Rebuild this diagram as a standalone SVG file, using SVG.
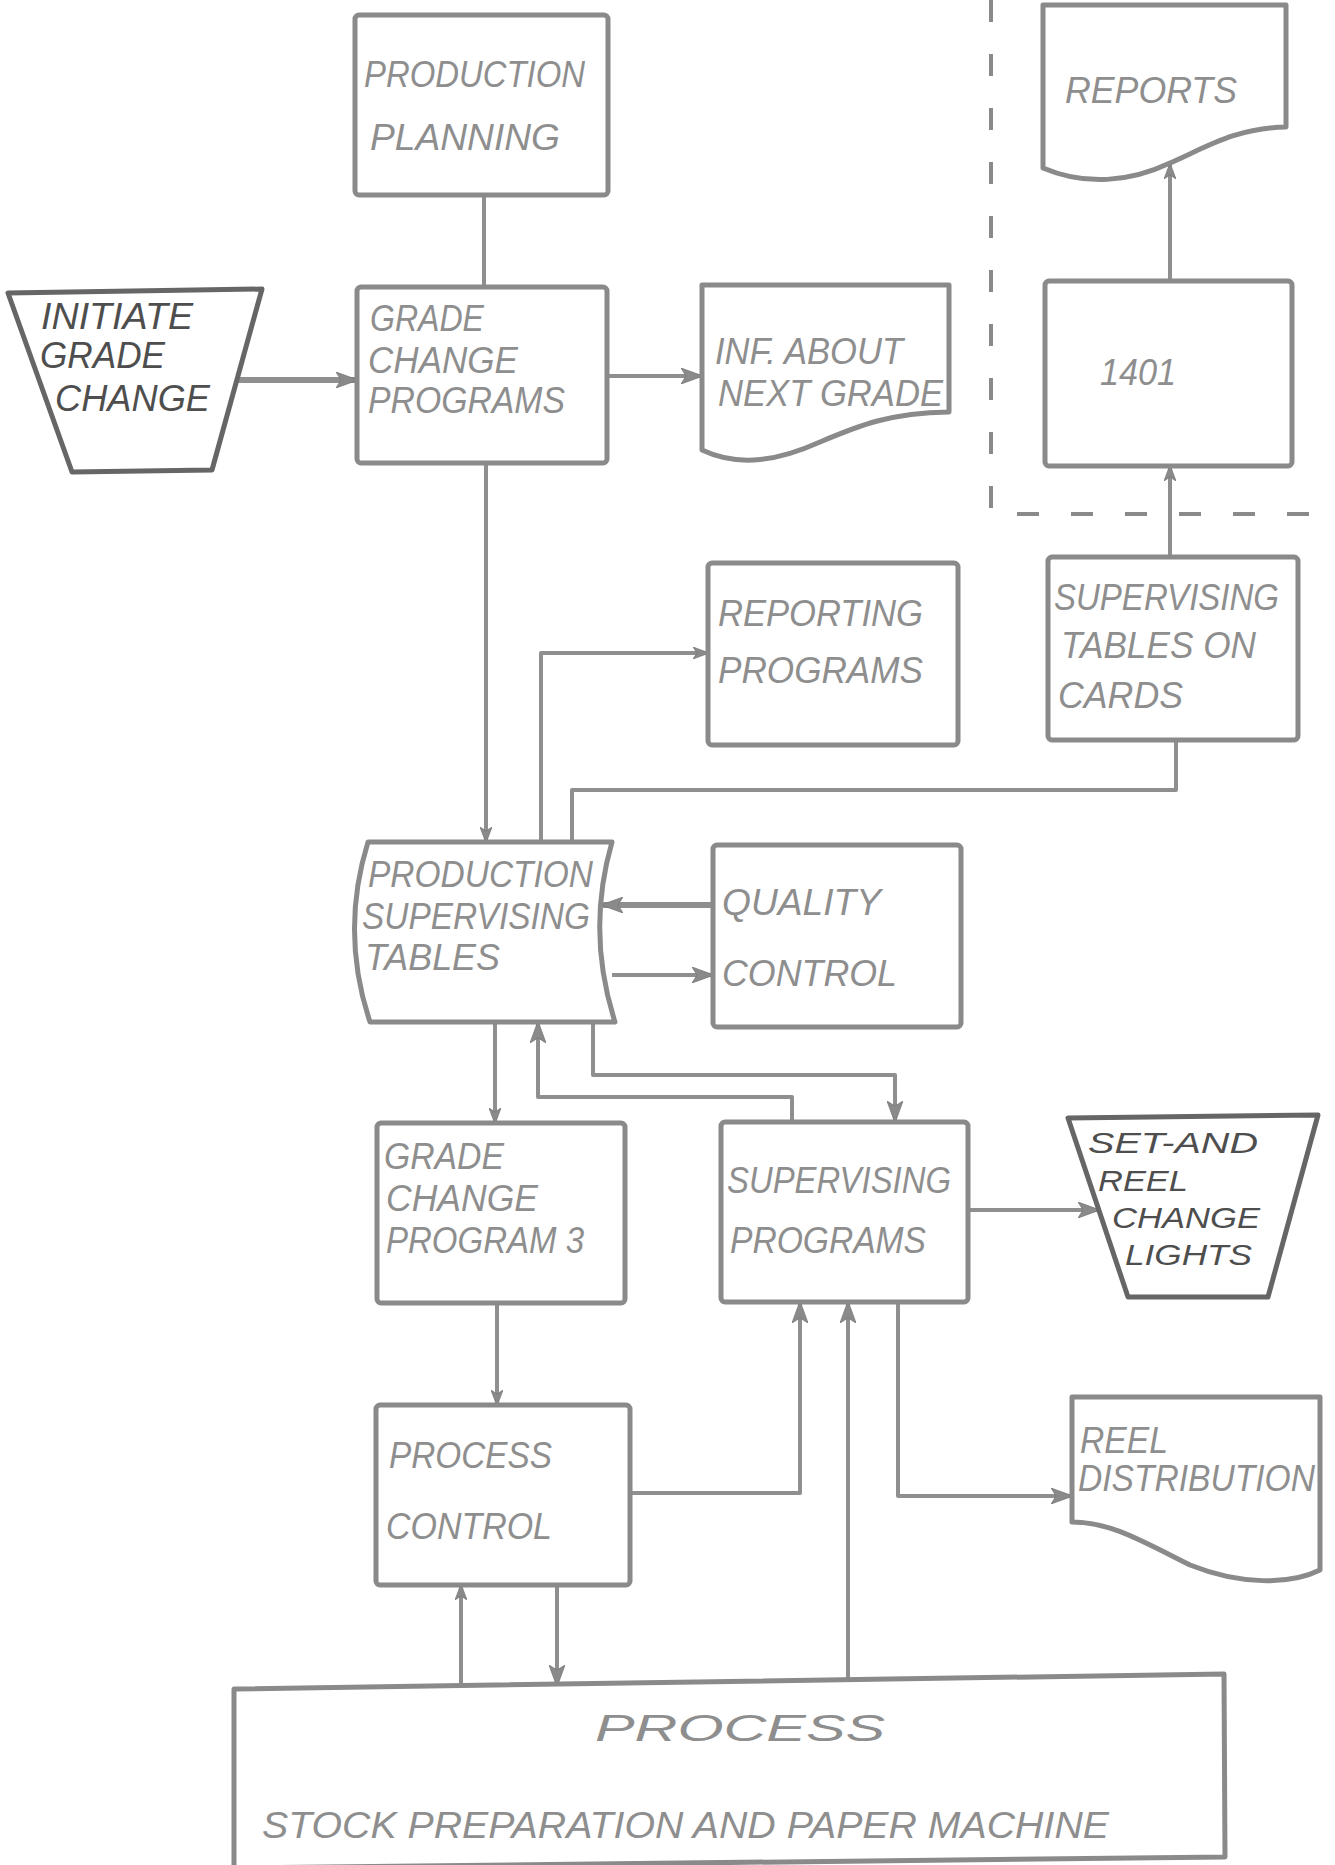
<svg xmlns="http://www.w3.org/2000/svg" width="1335" height="1865" viewBox="0 0 1335 1865">
<style>
  .box { fill: #ffffff; stroke: #8a8a8a; stroke-width: 5; stroke-linejoin: round; }
  .dark { stroke: #666666; }
  .ln { fill: none; stroke: #8f8f8f; stroke-width: 4; stroke-linejoin: round; }
  .thick { stroke-width: 6; }
  .dash { fill: none; stroke: #8a8a8a; stroke-width: 4; stroke-dasharray: 22 32; }
  .t { font-family: "Liberation Sans", Arial, sans-serif; font-style: italic; font-size: 36px; fill: #8e8e8e; }
  .td { fill: #4e4e4e; }
  .ts { font-size: 29px; }
</style>
<defs>
  <marker id="ah" viewBox="0 0 16 12" refX="15" refY="6" markerWidth="16" markerHeight="12" markerUnits="userSpaceOnUse" orient="auto">
    <path d="M0,0 L16,6 L0,12 L4,6 z" fill="#8a8a8a" stroke="#777" stroke-width="0.8"/>
  </marker>
  <marker id="ahb" viewBox="0 0 22 16" refX="21" refY="8" markerWidth="22" markerHeight="16" markerUnits="userSpaceOnUse" orient="auto">
    <path d="M0,0 L22,8 L0,16 L5,8 z" fill="#8a8a8a" stroke="#777" stroke-width="0.8"/>
  </marker>
</defs>

<g id="boundary">
  <path class="dash" d="M991,0 V514 H1335"/>
</g>

<g id="connectors">
  <path class="ln" d="M484,195 V287"/>
  <path class="ln thick" d="M237,380 H357" marker-end="url(#ahb)"/>
  <path class="ln" d="M607,376 H702" marker-end="url(#ahb)"/>
  <path class="ln" d="M1170,281 V164" marker-end="url(#ah)"/>
  <path class="ln" d="M1170,557 V466" marker-end="url(#ah)"/>
  <path class="ln" d="M486,463 V842" marker-end="url(#ah)"/>
  <path class="ln" d="M541,842 V653 H708" marker-end="url(#ah)"/>
  <path class="ln" d="M1176,740 V790 H572 V842"/>
  <path class="ln thick" d="M713,905 H602" marker-end="url(#ahb)"/>
  <path class="ln" d="M612,975 H713" marker-end="url(#ahb)"/>
  <path class="ln" d="M495,1022 V1123" marker-end="url(#ah)"/>
  <path class="ln" d="M792,1122 V1097 H538 V1022" marker-end="url(#ahb)"/>
  <path class="ln" d="M593,1022 V1075 H895 V1122" marker-end="url(#ahb)"/>
  <path class="ln" d="M968,1210 H1099" marker-end="url(#ahb)"/>
  <path class="ln" d="M497,1303 V1405" marker-end="url(#ah)"/>
  <path class="ln" d="M630,1493 H800 V1302" marker-end="url(#ahb)"/>
  <path class="ln" d="M848,1680 V1302" marker-end="url(#ahb)"/>
  <path class="ln" d="M898,1302 V1496 H1072" marker-end="url(#ahb)"/>
  <path class="ln" d="M461,1688 V1585" marker-end="url(#ah)"/>
  <path class="ln" d="M557,1585 V1686" marker-end="url(#ahb)"/>
</g>

<g id="production-planning">
  <rect class="box" x="355" y="15" width="253" height="180" rx="4"/>
  <text class="t" x="364" y="87" textLength="221" lengthAdjust="spacingAndGlyphs">PRODUCTION</text>
  <text class="t" x="370" y="150" textLength="190" lengthAdjust="spacingAndGlyphs">PLANNING</text>
</g>

<g id="initiate-grade-change">
  <path class="box dark" d="M8,293 L262,289 L212,470 L72,472 Z"/>
  <text class="t td" x="41" y="329" textLength="152" lengthAdjust="spacingAndGlyphs">INITIATE</text>
  <text class="t td" x="40" y="368" textLength="125" lengthAdjust="spacingAndGlyphs">GRADE</text>
  <text class="t td" x="55" y="411" textLength="155" lengthAdjust="spacingAndGlyphs">CHANGE</text>
</g>

<g id="grade-change-programs">
  <rect class="box" x="357" y="287" width="250" height="176" rx="4"/>
  <text class="t" x="370" y="331" textLength="114" lengthAdjust="spacingAndGlyphs">GRADE</text>
  <text class="t" x="368" y="373" textLength="150" lengthAdjust="spacingAndGlyphs">CHANGE</text>
  <text class="t" x="368" y="413" textLength="197" lengthAdjust="spacingAndGlyphs">PROGRAMS</text>
</g>

<g id="inf-about-next-grade">
  <path class="box" d="M702,285 H949 V412 C890,413 860,425 820,442 C780,460 740,468 702,450 Z"/>
  <text class="t" x="715" y="364" textLength="188" lengthAdjust="spacingAndGlyphs">INF. ABOUT</text>
  <text class="t" x="718" y="406" textLength="225" lengthAdjust="spacingAndGlyphs">NEXT GRADE</text>
</g>

<g id="reports">
  <path class="box" d="M1043,5 H1286 V127 C1235,128 1205,148 1170,163 C1130,182 1085,186 1043,168 Z"/>
  <text class="t" x="1065" y="103" textLength="172" lengthAdjust="spacingAndGlyphs">REPORTS</text>
</g>

<g id="n1401">
  <rect class="box" x="1045" y="281" width="247" height="185" rx="4"/>
  <text class="t" x="1100" y="385" textLength="76" lengthAdjust="spacingAndGlyphs">1401</text>
</g>

<g id="supervising-tables-on-cards">
  <rect class="box" x="1048" y="557" width="250" height="183" rx="4"/>
  <text class="t" x="1054" y="610" textLength="225" lengthAdjust="spacingAndGlyphs">SUPERVISING</text>
  <text class="t" x="1061" y="658" textLength="195" lengthAdjust="spacingAndGlyphs">TABLES ON</text>
  <text class="t" x="1058" y="708" textLength="125" lengthAdjust="spacingAndGlyphs">CARDS</text>
</g>

<g id="reporting-programs">
  <rect class="box" x="708" y="563" width="250" height="182" rx="4"/>
  <text class="t" x="718" y="626" textLength="205" lengthAdjust="spacingAndGlyphs">REPORTING</text>
  <text class="t" x="718" y="683" textLength="205" lengthAdjust="spacingAndGlyphs">PROGRAMS</text>
</g>

<g id="production-supervising-tables">
  <path class="box" d="M368,842 L612,842 Q586,932 615,1022 L370,1022 Q340,932 368,842 Z"/>
  <text class="t" x="368" y="887" textLength="225" lengthAdjust="spacingAndGlyphs">PRODUCTION</text>
  <text class="t" x="362" y="929" textLength="228" lengthAdjust="spacingAndGlyphs">SUPERVISING</text>
  <text class="t" x="365" y="970" textLength="135" lengthAdjust="spacingAndGlyphs">TABLES</text>
</g>

<g id="quality-control">
  <rect class="box" x="713" y="845" width="248" height="182" rx="4"/>
  <text class="t" x="722" y="915" textLength="159" lengthAdjust="spacingAndGlyphs">QUALITY</text>
  <text class="t" x="722" y="986" textLength="175" lengthAdjust="spacingAndGlyphs">CONTROL</text>
</g>

<g id="grade-change-program-3">
  <rect class="box" x="377" y="1123" width="248" height="180" rx="4"/>
  <text class="t" x="384" y="1169" textLength="120" lengthAdjust="spacingAndGlyphs">GRADE</text>
  <text class="t" x="386" y="1211" textLength="152" lengthAdjust="spacingAndGlyphs">CHANGE</text>
  <text class="t" x="386" y="1253" textLength="198" lengthAdjust="spacingAndGlyphs">PROGRAM 3</text>
</g>

<g id="supervising-programs">
  <rect class="box" x="721" y="1122" width="247" height="180" rx="4"/>
  <text class="t" x="727" y="1193" textLength="224" lengthAdjust="spacingAndGlyphs">SUPERVISING</text>
  <text class="t" x="730" y="1253" textLength="196" lengthAdjust="spacingAndGlyphs">PROGRAMS</text>
</g>

<g id="set-and-reel-change-lights">
  <path class="box dark" d="M1068,1118 L1318,1115 L1268,1297 L1128,1297 Z"/>
  <text class="t td ts" x="1088" y="1153" textLength="170" lengthAdjust="spacingAndGlyphs">SET-AND</text>
  <text class="t td ts" x="1098" y="1191" textLength="90" lengthAdjust="spacingAndGlyphs">REEL</text>
  <text class="t td ts" x="1112" y="1228" textLength="148" lengthAdjust="spacingAndGlyphs">CHANGE</text>
  <text class="t td ts" x="1125" y="1265" textLength="127" lengthAdjust="spacingAndGlyphs">LIGHTS</text>
</g>

<g id="reel-distribution">
  <path class="box" d="M1072,1397 H1320 V1570 C1290,1585 1240,1585 1190,1565 C1140,1540 1110,1522 1072,1522 Z"/>
  <text class="t" x="1080" y="1453" textLength="88" lengthAdjust="spacingAndGlyphs">REEL</text>
  <text class="t" x="1078" y="1491" textLength="237" lengthAdjust="spacingAndGlyphs">DISTRIBUTION</text>
</g>

<g id="process-control">
  <rect class="box" x="376" y="1405" width="254" height="180" rx="4"/>
  <text class="t" x="389" y="1468" textLength="163" lengthAdjust="spacingAndGlyphs">PROCESS</text>
  <text class="t" x="386" y="1539" textLength="166" lengthAdjust="spacingAndGlyphs">CONTROL</text>
</g>

<g id="process">
  <path class="box" d="M234,1689 L1224,1674 L1225,1857 L234,1868 Z"/>
  <text class="t" x="595" y="1741" font-size="58" textLength="290" lengthAdjust="spacingAndGlyphs">PROCESS</text>
  <text class="t" x="262" y="1838" textLength="847" lengthAdjust="spacingAndGlyphs">STOCK PREPARATION AND PAPER MACHINE</text>
</g>
</svg>
